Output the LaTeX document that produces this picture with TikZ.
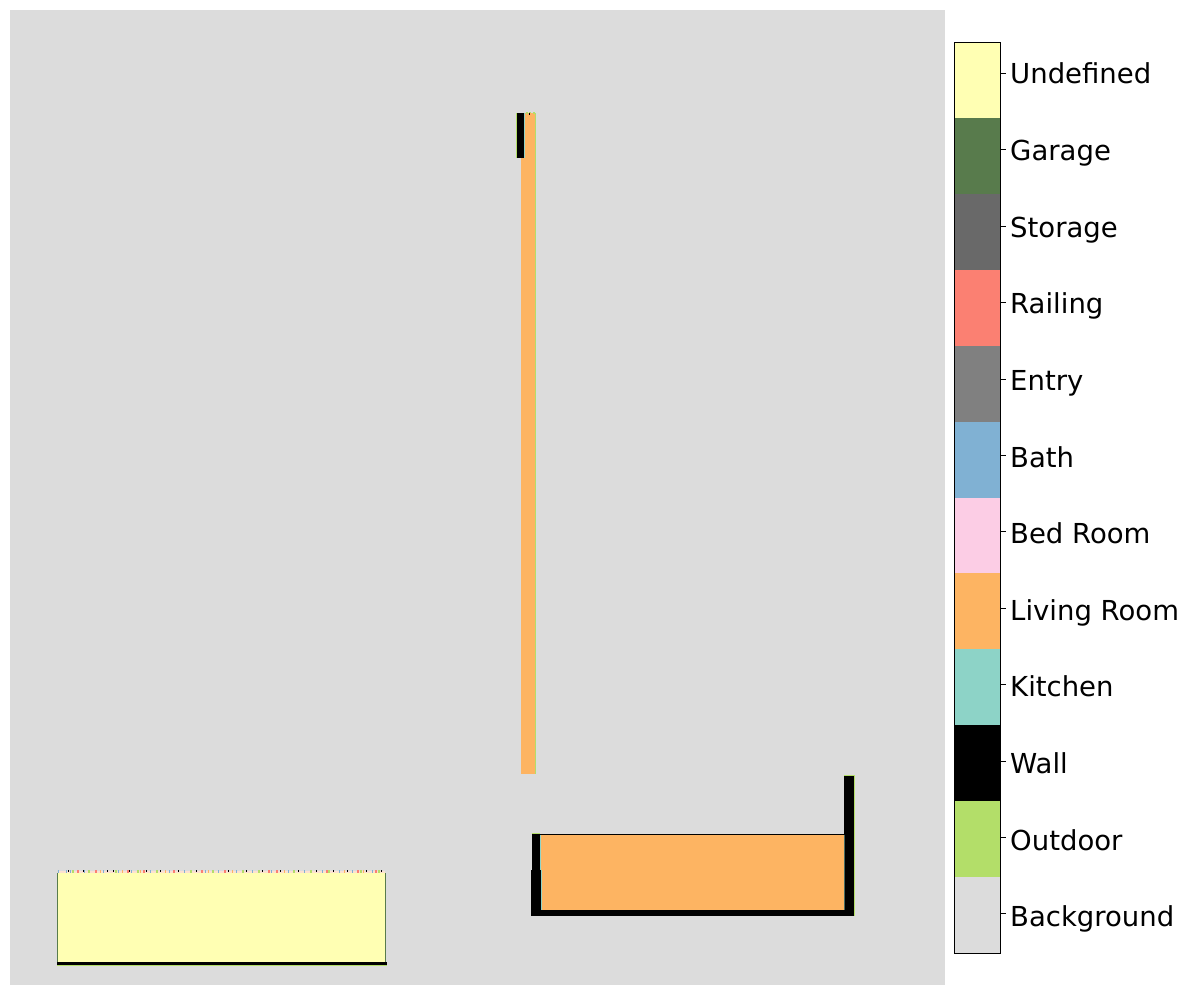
\documentclass[tikz,border=0pt]{standalone}
\usepackage{fontspec}
\setmainfont{DejaVu Sans}
\definecolor{cBack}{HTML}{DCDCDC}
\definecolor{cOut}{HTML}{B3DE69}
\definecolor{cKit}{HTML}{8DD3C7}
\definecolor{cLiv}{HTML}{FDB462}
\definecolor{cBed}{HTML}{FCCDE5}
\definecolor{cBath}{HTML}{80B1D3}
\definecolor{cEntry}{HTML}{808080}
\definecolor{cRail}{HTML}{FB8072}
\definecolor{cStor}{HTML}{696969}
\definecolor{cGar}{HTML}{587B4C}
\definecolor{cUnd}{HTML}{FFFFB3}
\tikzset{
  barlabel/.style={anchor=base west,inner sep=0pt,font=\fontsize{27.5}{30}\selectfont,text=black},
  tickline/.style={draw=black,line width=1pt},
  frameline/.style={draw=black,line width=1pt}
}
\begin{document}
\begin{tikzpicture}[x=1pt,y=-1pt]
\useasboundingbox (0,0) rectangle (1189,995);
\fill[white] (0,0) rectangle (1189,995);
\fill[cBack] (10,10) rectangle (945,985);
% tall column
\fill[cLiv] (521,113) rectangle (535,774);
\fill[cOut] (535,113) rectangle (536,774);
\fill[cLiv] (524,113) rectangle (535,158);
\fill[cOut] (516,113) rectangle (517,158);
\fill[black] (517,113) rectangle (524,158);
\fill[cKit] (524,113) rectangle (525,158);
\fill[cOut] (526,112) rectangle (528,114);
\fill[cOut] (529,112) rectangle (531,113);
\fill[black] (529,113) rectangle (530,115);
\fill[cOut] (533,112) rectangle (535,114);
% lower right room
\fill[cLiv] (541,835) rectangle (844,910);
\fill[black] (540,834) rectangle (844,835);
\fill[cOut] (532,833) rectangle (540,834);
\fill[black] (532,834) rectangle (540,870);
\fill[black] (531,870) rectangle (541,916);
\fill[black] (531,910) rectangle (854,916);
\fill[black] (844,776) rectangle (854,916);
\fill[cOut] (844,775) rectangle (855,776);
\fill[cOut] (854,775) rectangle (855,916);
\fill[cKit] (540,835) rectangle (541,870);
\fill[cKit] (541,870) rectangle (542,910);
\fill[cKit!50!black] (843.6,835) rectangle (844,910);
% lower left block
\fill[cUnd] (58,873) rectangle (385,962);
\fill[cGar] (57,873) rectangle (58,962);
\fill[cGar] (385,873) rectangle (386,962);
\fill[black] (57,962) rectangle (387,965);
\fill[cOut] (57,965) rectangle (387,966);
\fill[cBed!60!cUnd] (58,871) rectangle (385,873);
\foreach \x in {58,66,70,84,103,118,131,150,169,184,205,218,236,252,271,288,304,322,339,352,372}
  \fill[cBath] (\x,870) rectangle ++(1,3);
\foreach \x in {68,83,107,113,129,146,160,178,196,228,246,262,280,298,316,333,347,366,381}
  \fill[black] (\x,870) rectangle ++(1,2);
\foreach \x in {72,88,115,137,156,190,212,242,258,293,310,328,360,378}
  \fill[cOut] (\x,870) rectangle ++(2,3);
\foreach \x in {77,95,127,143,173,201,224,268,276,326,357,375}
  \fill[cRail] (\x,870) rectangle ++(2,3);
\foreach \x in {100,122,140,165,208,232,284,344,363}
  \fill[cLiv] (\x,870) rectangle ++(1,3);
% colour bar
\foreach \c [count=\i from 0] in {cUnd,cGar,cStor,cRail,cEntry,cBath,cBed,cLiv,cKit,black,cOut,cBack}
  \fill[\c] (954,{42+75.92*\i}) rectangle (1000,{42+75.92*(\i+1)});
\draw[frameline] (954,42.5) rectangle (1000.3,953);
\foreach \i in {0,...,11}
  \draw[tickline] (1000,{73.5+76.4*\i}) -- (1005.5,{73.5+76.4*\i});
\foreach \t/\n [count=\i from 0] in {Undefined/lUnd,Garage/lGar,Storage/lSto,Railing/lRai,Entry/lEnt,Bath/lBat,Bed Room/lBed,Living Room/lLiv,Kitchen/lKit,Wall/lWal,Outdoor/lOut,Background/lBac}
  \node[barlabel] (\n) at (1010,{84+76.6*\i}) {\t};
\end{tikzpicture}
\end{document}
